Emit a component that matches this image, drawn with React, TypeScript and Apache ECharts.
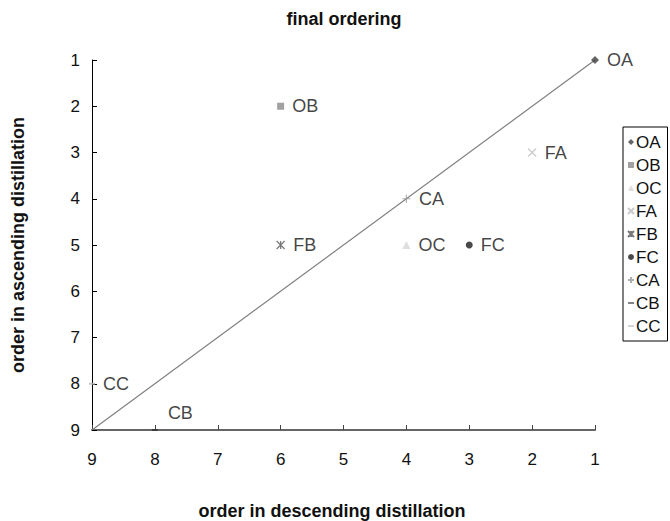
import React, { useEffect, useRef } from "react";
import * as echarts from "echarts";

const names = ["OA", "OB", "OC", "FA", "FB", "FC", "CA", "CB", "CC"];
const descOrder = [1, 6, 4, 2, 6, 3, 4, 8, 9];
const ascOrder = [1, 2, 5, 3, 5, 5, 4, 9, 8];
const diagonal = [
  [9, 9],
  [1, 1],
];

const colors = ["#3f3f3f", "#8a8a8a", "#d6d6d6", "#bdbdbd", "#555555", "#1c1c1c", "#9a9a9a", "#333333", "#b8b8b8"];

const P_X = "path://M0 0 L10 10 M10 0 L0 10";
const P_AST = "path://M0 0 L10 10 M10 0 L0 10 M5 0 L5 10";
const P_PLUS = "path://M5 0 L5 10 M0 5 L10 5";
const P_DASH = "path://M0 4 L10 4 L10 6.5 L0 6.5 Z";

const symbols: any[] = ["diamond", "rect", "triangle", P_X, P_AST, "circle", P_PLUS, "rect", "rect"];
const sizes: any[] = [8, 7, 8, 8, 8, 7, 8, [6, 2], [6, 2]];
const stroked = [false, false, false, true, true, false, true, false, false];
const legendIcons = ["diamond", "rect", "triangle", P_X, P_AST, "circle", P_PLUS, P_DASH, P_DASH];

export default function App() {
  const ref = useRef<HTMLDivElement>(null);
  useEffect(() => {
    const chart = echarts.init(ref.current!, null, { renderer: "svg" });
    const font = "Liberation Sans, Arial, sans-serif";
    const boldFont = "bold 18px Liberation Sans, Arial, sans-serif";
    const series: any[] = names.map((n, i) => ({
      name: n,
      type: "scatter",
      data: [[descOrder[i], ascOrder[i]]],
      symbol: symbols[i],
      symbolSize: sizes[i],
      itemStyle: stroked[i]
        ? { color: "rgba(0,0,0,0)", borderColor: colors[i], borderWidth: 1.2 }
        : { color: colors[i] },
      label: {
        show: true,
        formatter: n,
        position: "right",
        distance: 8,
        offset: n === "CB" ? [2, -17] : [0, 0],
        color: "#111",
        fontSize: 18,
        fontFamily: font,
      },
      z: 3,
    }));
    series.push({
      name: "diag",
      type: "line",
      data: diagonal,
      symbol: "none",
      silent: true,
      lineStyle: { color: "#808080", width: 1.2 },
      z: 2,
    });
    chart.setOption({
      animation: false,
      textStyle: { fontFamily: font },
      grid: { left: 92, right: 75, top: 60, bottom: 91 },
      xAxis: {
        type: "value",
        min: 1,
        max: 9,
        interval: 1,
        inverse: true,
        axisLine: { lineStyle: { color: "#666", width: 2 } },
        axisTick: { inside: true, length: 5, lineStyle: { color: "#444" } },
        axisLabel: { color: "#111", fontSize: 17, margin: 21, fontFamily: font },
        splitLine: { show: false },
      },
      yAxis: {
        type: "value",
        min: 1,
        max: 9,
        interval: 1,
        inverse: true,
        axisLine: { show: true, lineStyle: { color: "#000", width: 1 } },
        axisTick: { show: true, inside: true, length: 5, lineStyle: { color: "#000" } },
        axisLabel: { color: "#111", fontSize: 17, margin: 12, fontFamily: font },
        splitLine: { show: false },
      },
      legend: {
        orient: "vertical",
        left: 623,
        top: 127,
        itemWidth: 6,
        itemHeight: 6,
        itemGap: 5,
        padding: [6, 6, 6, 4],
        borderColor: "#000",
        borderWidth: 1,
        textStyle: { fontSize: 17, lineHeight: 18, color: "#111", fontFamily: font, padding: [0, 0, 0, -3] },
        data: names.map((n, i) => ({ name: n, icon: legendIcons[i] })),
      },
      graphic: [
        {
          type: "text",
          x: 344,
          y: 19,
          style: { text: "final ordering", align: "center", verticalAlign: "middle", fill: "#111", font: boldFont },
        },
        {
          type: "text",
          x: 332,
          y: 511,
          style: {
            text: "order in descending distillation",
            align: "center",
            verticalAlign: "middle",
            fill: "#111",
            font: boldFont,
          },
        },
        {
          type: "text",
          x: 18,
          y: 245,
          rotation: Math.PI / 2,
          style: {
            text: "order in ascending distillation",
            align: "center",
            verticalAlign: "middle",
            fill: "#111",
            font: boldFont,
          },
        },
      ],
      series,
    });
    return () => chart.dispose();
  }, []);
  return <div ref={ref} style={{ width: 670, height: 521, position: "absolute", left: 0, top: 0 }} />;
}
